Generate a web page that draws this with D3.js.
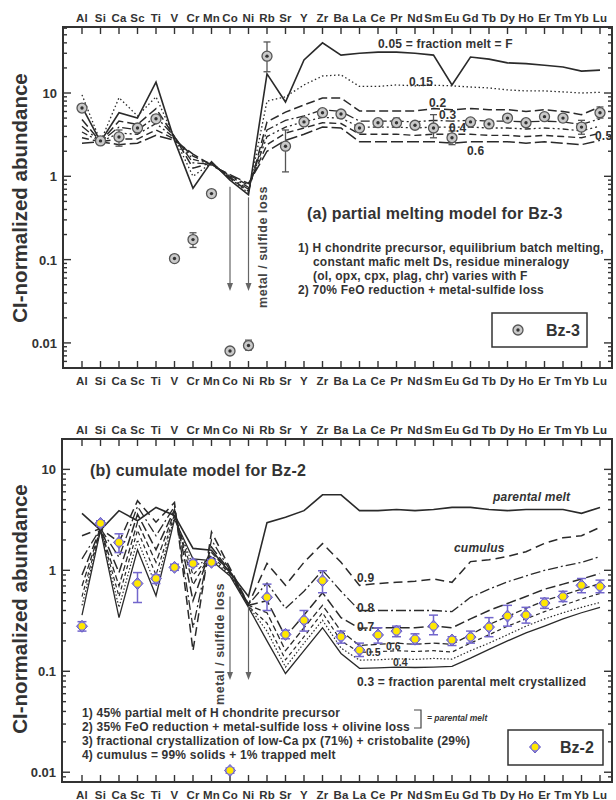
<!DOCTYPE html>
<html>
<head>
<meta charset="utf-8">
<script src="https://d3js.org/d3.v7.min.js"></script>
<style>
    body { margin: 0; background: #fff; }
    svg { font-family: "Liberation Sans", Arial, Helvetica, sans-serif; font-weight: bold; }
    text { fill: #333; }
    .frame { fill: none; stroke: #333; stroke-width: 2; }
    .tick { stroke: #333; stroke-width: 1.4; }
    .cat { font-size: 11.5px; text-anchor: middle; letter-spacing: 0.2px; }
    .ylab { font-size: 13px; text-anchor: end; }
    .ytitle { font-size: 20.5px; text-anchor: middle; }
    .model { fill: none; stroke: #2a2a2a; }
    .err3 { stroke: #555; stroke-width: 1.3; }
    .err2 { stroke: #7266cc; stroke-width: 1.5; }
    .arrow { stroke: #666; stroke-width: 1.2; }
    .title { font-size: 16px; letter-spacing: 0.2px; }
    .note { font-size: 12px; letter-spacing: 0.2px; }
    .lab { font-size: 12px; letter-spacing: 0.2px; }
    .small { font-size: 10.5px; }
    .rot { font-size: 12.5px; letter-spacing: 0.5px; fill: #444; }
    .ital { font-style: italic; }
    .legend { fill: #fff; stroke: #333; stroke-width: 1.5; }
</style>
</head>
<body>
<svg id="chart" width="616" height="800"></svg>
<script>
    // Элементы (ось X)
    const elements = ["Al","Si","Ca","Sc","Ti","V","Cr","Mn","Co","Ni","Rb","Sr","Y","Zr","Ba",
                      "La","Ce","Pr","Nd","Sm","Eu","Gd","Tb","Dy","Ho","Er","Tm","Yb","Lu"];
    const yTickLabels = [0.01, 0.1, 1, 10];

    // (a) Bz-3: измерения и погрешности
    const bz3   = [6.6, 2.66, 2.97, 3.8, 4.9, 0.103, 0.174, 0.62, 0.008, 0.0093, 27.7, 2.3, 4.5, 5.8, 5.6,
                   3.8, 4.4, 4.4, 4.1, 3.8, 2.9, 4.5, 4.25, 5.0, 4.4, 5.2, 5.0, 3.9, 5.8];
    const bz3Lo = [6.0, 2.5, 2.3, 3.4, 4.5, 0.095, 0.14, 0.58, 0.0075, 0.0082, 18, 1.13, 4.2, 5.4, 5.2,
                   3.5, 4.1, 3.9, 3.8, 2.9, 2.4, 4.2, 4.0, 4.7, 4.1, 4.9, 4.7, 3.2, 5.0];
    const bz3Hi = [7.3, 2.8, 3.6, 4.2, 5.4, 0.11, 0.21, 0.66, 0.0085, 0.0108, 41, 3.6, 4.8, 6.1, 6.0,
                   4.1, 4.7, 5.0, 4.4, 5.5, 3.5, 4.8, 4.5, 5.3, 4.7, 5.5, 5.3, 4.7, 6.8];

    // (a) модель частичного плавления, F = доля расплава
    const meltF   = ["0.05", "0.15", "0.2", "0.3", "0.4", "0.5", "0.6"];
    const melt005 = [6.8, 2.6, 5.8, 5.0, 13.5, 2.7, 0.72, 1.5, 0.9, 0.6, 17, 7.8, 25, 40, 28.5,
                     30, 31, 31, 30, 28.5, 12.5, 27, 25.5, 23, 22.5, 21.5, 20.5, 18.3, 18.8];
    const melt015 = [9.5, 2.6, 8.8, 5.3, 9.0, 2.9, 1.0, 1.45, 0.95, 0.63, 8.0, 9.0, 12.5, 16, 16.5,
                     12, 12, 12.5, 12.2, 12.4, 12.2, 11.8, 11.5, 10.9, 10.6, 10.6, 10.3, 10, 10.2];
    const melt02  = [4.8, 2.6, 4.6, 4.2, 6.5, 3.0, 1.25, 1.45, 0.95, 0.66, 4.5, 5.9, 7.2, 8.7, 8.7,
                     6.1, 6.1, 6.1, 6.1, 6.5, 6.3, 6.5, 6.3, 6.3, 6.0, 6.3, 6.0, 5.5, 6.8];
    const melt03  = [4.0, 2.6, 3.9, 3.6, 5.2, 3.0, 1.45, 1.4, 0.97, 0.7, 3.6, 4.7, 5.3, 6.3, 6.0,
                     4.6, 4.6, 4.6, 4.5, 4.7, 4.6, 4.7, 4.6, 4.6, 4.5, 4.6, 4.5, 4.2, 4.9];
    const melt04  = [3.4, 2.6, 3.3, 3.2, 4.3, 2.9, 1.6, 1.4, 1.0, 0.74, 3.0, 3.9, 4.5, 5.1, 5.0,
                     3.9, 3.9, 3.9, 3.8, 3.9, 3.9, 3.9, 3.8, 3.8, 3.7, 3.8, 3.7, 3.5, 4.0];
    const melt05  = [2.9, 2.6, 2.8, 2.8, 3.6, 2.8, 1.75, 1.4, 1.02, 0.78, 2.4, 3.3, 3.8, 4.4, 4.3,
                     3.2, 3.2, 3.2, 3.1, 3.2, 3.2, 3.2, 3.1, 3.1, 3.0, 3.1, 3.0, 2.9, 3.3];
    const melt06  = [2.5, 2.6, 2.4, 2.5, 3.1, 2.7, 1.85, 1.35, 1.05, 0.82, 2.0, 2.7, 3.2, 3.9, 3.8,
                     2.6, 2.6, 2.6, 2.6, 2.6, 2.5, 2.6, 2.6, 2.6, 2.5, 2.6, 2.5, 2.4, 2.7];

    // (b) Bz-2: измерения и погрешности (Ni нет)
    const bz2   = [0.279, 2.92, 1.89, 0.74, 0.83, 1.07, 1.17, 1.2, 0.0104, null, 0.54, 0.232, 0.32, 0.79, 0.22,
                   0.162, 0.229, 0.25, 0.208, 0.28, 0.204, 0.218, 0.274, 0.352, 0.36, 0.474, 0.55, 0.71, 0.69];
    const bz2Lo = [0.25, 2.75, 1.5, 0.48, 0.74, 1.0, 1.1, 1.12, 0.0098, null, 0.4, 0.21, 0.25, 0.6, 0.19,
                   0.14, 0.19, 0.22, 0.185, 0.23, 0.18, 0.19, 0.22, 0.28, 0.3, 0.42, 0.49, 0.6, 0.6];
    const bz2Hi = [0.31, 3.1, 2.3, 0.95, 0.9, 1.15, 1.25, 1.28, 0.011, null, 0.73, 0.255, 0.4, 0.99, 0.25,
                   0.19, 0.27, 0.28, 0.235, 0.36, 0.22, 0.25, 0.34, 0.45, 0.43, 0.53, 0.62, 0.83, 0.8];

    // (b) родительский расплав и кумулаты, доля закристаллизованного расплава
    const parental = [3.67, 2.5, 3.9, 3.1, 4.2, 3.5, 1.65, 1.58, 0.95, 0.55, 2.97, 3.35, 3.9, 5.6, 5.6,
                      3.9, 3.9, 4.0, 3.9, 4.0, 4.2, 4.2, 4.0, 3.9, 4.0, 4.0, 4.0, 3.67, 4.2];
    const crystFrac = ["0.9", "0.8", "0.7", "0.6", "0.5", "0.4", "0.3"];
    const cum09 = [2.2, 2.6, 1.9, 4.9, 3.0, 4.7, 0.16, 2.4, 1.05, 0.46, 1.17, 0.71, 1.2, 1.84, 1.2,
                   0.71, 0.74, 0.76, 0.78, 0.82, 0.76, 1.22, 1.27, 1.37, 1.53, 1.85, 2.1, 2.2, 2.67];
    const cum08 = [1.3, 2.6, 1.35, 4.3, 2.2, 4.3, 0.27, 2.0, 1.0, 0.46, 0.75, 0.42, 0.62, 1.0, 0.62,
                   0.40, 0.40, 0.40, 0.40, 0.40, 0.39, 0.54, 0.65, 0.77, 0.88, 1.0, 1.1, 1.2, 1.37];
    const cum07 = [0.9, 2.6, 0.95, 3.6, 1.6, 4.0, 0.5, 1.7, 0.98, 0.45, 0.5, 0.22, 0.36, 0.6, 0.34,
                   0.267, 0.27, 0.27, 0.27, 0.28, 0.27, 0.33, 0.4, 0.47, 0.55, 0.65, 0.73, 0.82, 0.93];
    const cum06 = [0.7, 2.55, 0.7, 3.0, 1.2, 3.8, 0.72, 1.5, 0.95, 0.45, 0.38, 0.16, 0.27, 0.45, 0.25,
                   0.18, 0.185, 0.19, 0.185, 0.19, 0.185, 0.23, 0.29, 0.35, 0.42, 0.5, 0.57, 0.65, 0.74];
    const cum05 = [0.55, 2.55, 0.55, 2.5, 0.9, 3.6, 0.9, 1.4, 0.92, 0.44, 0.3, 0.13, 0.22, 0.38, 0.2,
                   0.154, 0.156, 0.16, 0.157, 0.16, 0.155, 0.19, 0.23, 0.28, 0.33, 0.39, 0.45, 0.52, 0.59];
    const cum04 = [0.45, 2.5, 0.43, 2.0, 0.7, 3.4, 1.1, 1.3, 0.9, 0.44, 0.25, 0.11, 0.19, 0.32, 0.17,
                   0.129, 0.13, 0.133, 0.131, 0.134, 0.132, 0.16, 0.19, 0.23, 0.28, 0.33, 0.38, 0.43, 0.48];
    const cum03 = [0.36, 2.5, 0.34, 1.6, 0.56, 3.2, 1.3, 1.25, 0.88, 0.43, 0.2, 0.095, 0.16, 0.27, 0.15,
                   0.107, 0.108, 0.11, 0.109, 0.11, 0.112, 0.135, 0.165, 0.2, 0.24, 0.28, 0.33, 0.38, 0.43];

    const svg = d3.select("#chart");
    const x = d3.scalePoint().domain(elements).range([82, 600]);

    // Рамка, оси, подписи одной панели
    function drawPanel(p) {
        const y = d3.scaleLog().domain(p.domain).range([p.bottom, p.top]);
        const g = svg.append("g");

        g.append("rect")
            .attr("class", "frame")
            .attr("x", p.left).attr("y", p.top)
            .attr("width", p.right - p.left).attr("height", p.bottom - p.top);

        // Засечки элементов сверху и снизу
        g.selectAll(".ct").data(elements).enter().append("line")
            .attr("class", "tick")
            .attr("x1", d => x(d)).attr("x2", d => x(d))
            .attr("y1", p.top).attr("y2", p.top + 7);
        g.selectAll(".cb").data(elements).enter().append("line")
            .attr("class", "tick")
            .attr("x1", d => x(d)).attr("x2", d => x(d))
            .attr("y1", p.bottom).attr("y2", p.bottom - 7);

        // Подписи элементов
        [p.top - 5, p.bottom + 17].forEach(ty => {
            g.selectAll(null).data(elements).enter().append("text")
                .attr("class", "cat")
                .attr("x", d => x(d)).attr("y", ty)
                .text(d => d);
        });

        // Логарифмические засечки слева и справа
        const ticks = y.ticks();
        const isMajor = v => Math.abs(Math.log10(v) - Math.round(Math.log10(v))) < 1e-6;
        g.selectAll(".yl").data(ticks).enter().append("line")
            .attr("class", "tick")
            .attr("x1", p.left).attr("x2", d => p.left + (isMajor(d) ? 8 : 4))
            .attr("y1", d => y(d)).attr("y2", d => y(d));
        g.selectAll(".yr").data(ticks).enter().append("line")
            .attr("class", "tick")
            .attr("x1", p.right).attr("x2", d => p.right - (isMajor(d) ? 8 : 4))
            .attr("y1", d => y(d)).attr("y2", d => y(d));
        g.selectAll(".ylab").data(yTickLabels.filter(v => v >= p.domain[0] && v <= p.domain[1]))
            .enter().append("text")
            .attr("class", "ylab")
            .attr("x", p.left - 6).attr("y", d => y(d) + 5)
            .text(d => d);

        // Заголовок оси Y
        g.append("text")
            .attr("class", "ytitle")
            .attr("transform", `translate(27,${p.titleY}) rotate(-90)`)
            .text("CI-normalized abundance");

        // Модельные линии
        const line = d3.line()
            .defined(d => d != null)
            .x((d, i) => x(elements[i]))
            .y(d => y(d));
        p.lines.forEach((s, k) => {
            g.append("path")
                .attr("class", "model")
                .attr("d", line(s))
                .attr("stroke-width", p.widths[k])
                .attr("stroke-dasharray", p.dashes[k]);
        });

        return { g, y };
    }

    // ---------- (a) ----------
    const a = drawPanel({
        top: 27, bottom: 368, left: 63, right: 612,
        domain: [0.005, 62], titleY: 198,
        lines: [melt005, melt015, melt02, melt03, melt04, melt05, melt06],
        widths: [1.6, 1.3, 1.5, 1.3, 1.3, 1.4, 1.5],
        dashes: [null, "1.5,2.5", "9,4", "9,3,2,3", "6,3,2,3,2,3", "7,4", "12,4"]
    });

    // Стрелки потери металла/сульфида
    const arrowsA = [{ el: "Co", from: 0.75, to: 0.042 }, { el: "Ni", from: 0.56, to: 0.042 }];
    function drawArrows(panel, list) {
        list.forEach(d => {
            const ax = x(d.el), y1 = panel.y(d.from), y2 = panel.y(d.to);
            panel.g.append("line").attr("class", "arrow")
                .attr("x1", ax).attr("x2", ax).attr("y1", y1).attr("y2", y2 - 5);
            panel.g.append("path")
                .attr("d", `M${ax - 3},${y2 - 8} L${ax},${y2} L${ax + 3},${y2 - 8} Z`)
                .attr("fill", "#666");
        });
    }
    drawArrows(a, arrowsA);
    a.g.append("text").attr("class", "rot")
        .attr("text-anchor", "middle")
        .attr("transform", "translate(267,247) rotate(-90)")
        .text("metal / sulfide loss");

    // Точки Bz-3 с погрешностями
    const idx3 = d3.range(elements.length).filter(i => bz3[i] != null);
    a.g.selectAll(".e3").data(idx3).enter().append("line").attr("class", "err3")
        .attr("x1", i => x(elements[i])).attr("x2", i => x(elements[i]))
        .attr("y1", i => a.y(bz3Lo[i])).attr("y2", i => a.y(bz3Hi[i]));
    [bz3Lo, bz3Hi].forEach(arr => {
        a.g.selectAll(null).data(idx3).enter().append("line").attr("class", "err3")
            .attr("x1", i => x(elements[i]) - 3.5).attr("x2", i => x(elements[i]) + 3.5)
            .attr("y1", i => a.y(arr[i])).attr("y2", i => a.y(arr[i]));
    });
    function bz3Symbol(sel) {
        sel.append("circle").attr("r", 5).attr("fill", "#c9c9c9").attr("stroke", "#555").attr("stroke-width", 1.3);
        sel.append("circle").attr("r", 1.7).attr("fill", "#333");
    }
    a.g.selectAll(".p3").data(idx3).enter().append("g")
        .attr("transform", i => `translate(${x(elements[i])},${a.y(bz3[i])})`)
        .call(bz3Symbol);

    // Подписи линий F
    const labelsA = [
        { t: "0.05 = fraction melt = F", x: 378, y: 48 },
        { t: "0.15", x: 409, y: 86 },
        { t: "0.2", x: 429, y: 107 },
        { t: "0.3", x: 439, y: 119 },
        { t: "0.4", x: 449, y: 132 },
        { t: "0.5", x: 595, y: 140 },
        { t: "0.6", x: 467, y: 155 }
    ];
    a.g.selectAll(".la").data(labelsA).enter().append("text").attr("class", "lab")
        .attr("x", d => d.x).attr("y", d => d.y).text(d => d.t);

    a.g.append("text").attr("class", "title").attr("x", 307).attr("y", 219)
        .text("(a) partial melting model for Bz-3");
    const notesA = [
        { t: "1) H chondrite precursor, equilibrium batch melting,", x: 298 },
        { t: "constant mafic melt Ds, residue mineralogy", x: 313 },
        { t: "(ol, opx, cpx, plag, chr) varies with F", x: 313 },
        { t: "2) 70% FeO reduction + metal-sulfide loss", x: 298 }
    ];
    a.g.selectAll(".na").data(notesA).enter().append("text").attr("class", "note")
        .attr("x", d => d.x).attr("y", (d, i) => 252 + i * 14).text(d => d.t);

    a.g.append("rect").attr("class", "legend").attr("x", 492).attr("y", 313).attr("width", 95).attr("height", 34);
    a.g.append("g").attr("transform", "translate(518,330)").call(bz3Symbol);
    a.g.append("text").attr("x", 546).attr("y", 336).style("font-size", "16px").text("Bz-3");

    // ---------- (b) ----------
    const b = drawPanel({
        top: 439, bottom: 782, left: 62, right: 612,
        domain: [0.008, 20], titleY: 609,
        lines: [parental, cum09, cum08, cum07, cum06, cum05, cum04, cum03],
        widths: [1.6, 1.5, 1.3, 1.5, 1.3, 1.2, 1.2, 1.3],
        dashes: [null, "9,5", "10,3,2,3", "10,4", "6,3", "4,3", "1.5,2", null]
    });

    const arrowsB = [{ el: "Co", from: 0.55, to: 0.082 }, { el: "Ni", from: 0.44, to: 0.082 }];
    drawArrows(b, arrowsB);
    b.g.append("text").attr("class", "rot")
        .attr("text-anchor", "middle")
        .attr("transform", "translate(224,644) rotate(-90)")
        .text("metal / sulfide loss");

    // Точки Bz-2 с погрешностями
    const idx2 = d3.range(elements.length).filter(i => bz2[i] != null);
    b.g.selectAll(".e2").data(idx2).enter().append("line").attr("class", "err2")
        .attr("x1", i => x(elements[i])).attr("x2", i => x(elements[i]))
        .attr("y1", i => b.y(bz2Lo[i])).attr("y2", i => b.y(bz2Hi[i]));
    [bz2Lo, bz2Hi].forEach(arr => {
        b.g.selectAll(null).data(idx2).enter().append("line").attr("class", "err2")
            .attr("x1", i => x(elements[i]) - 4.5).attr("x2", i => x(elements[i]) + 4.5)
            .attr("y1", i => b.y(arr[i])).attr("y2", i => b.y(arr[i]));
    });
    function bz2Symbol(sel) {
        sel.append("path").attr("d", "M0,-6 L5.5,0 L0,6 L-5.5,0 Z")
            .attr("fill", "#8a80d8").attr("stroke", "#6a5fc4").attr("stroke-width", 1);
        sel.append("circle").attr("r", 3.3).attr("fill", "#ffe800");
    }
    b.g.selectAll(".p2").data(idx2).enter().append("g")
        .attr("transform", i => `translate(${x(elements[i])},${b.y(bz2[i])})`)
        .call(bz2Symbol);

    // Подписи кривых
    const labelsB = [
        { t: "parental melt", x: 493, y: 501, cls: "lab ital" },
        { t: "cumulus", x: 454, y: 552, cls: "lab ital" },
        { t: "0.9", x: 357, y: 582, cls: "lab" },
        { t: "0.8", x: 357, y: 612, cls: "lab" },
        { t: "0.7", x: 357, y: 631, cls: "lab" },
        { t: "0.6", x: 386, y: 650, cls: "small" },
        { t: "0.5", x: 366, y: 656, cls: "small" },
        { t: "0.4", x: 393, y: 666, cls: "small" },
        { t: "0.3 = fraction parental melt crystallized", x: 357, y: 686, cls: "lab" }
    ];
    b.g.selectAll(".lb").data(labelsB).enter().append("text")
        .attr("class", d => d.cls)
        .attr("x", d => d.x).attr("y", d => d.y).text(d => d.t);

    b.g.append("text").attr("class", "title").attr("x", 90).attr("y", 476)
        .text("(b) cumulate model for Bz-2");
    const notesB = [
        "1) 45% partial melt of H chondrite precursor",
        "2) 35% FeO reduction + metal-sulfide loss + olivine loss",
        "3) fractional crystallization of low-Ca px (71%) + cristobalite (29%)",
        "4) cumulus = 99% solids + 1% trapped melt"
    ];
    b.g.selectAll(".nb").data(notesB).enter().append("text").attr("class", "note")
        .attr("x", 82).attr("y", (d, i) => 717 + i * 14).text(d => d);
    b.g.append("path").attr("d", "M414,710 L421,710 L421,728 L414,728")
        .attr("fill", "none").attr("stroke", "#444").attr("stroke-width", 1.2);
    b.g.append("text").attr("class", "ital").style("font-size", "8.5px")
        .attr("x", 427).attr("y", 721).text("= parental melt");

    b.g.append("rect").attr("class", "legend").attr("x", 508).attr("y", 730).attr("width", 95).attr("height", 35);
    b.g.append("g").attr("transform", "translate(535,747)").call(bz2Symbol);
    b.g.append("text").attr("x", 560).attr("y", 753).style("font-size", "16px").text("Bz-2");
</script>
</body>
</html>
